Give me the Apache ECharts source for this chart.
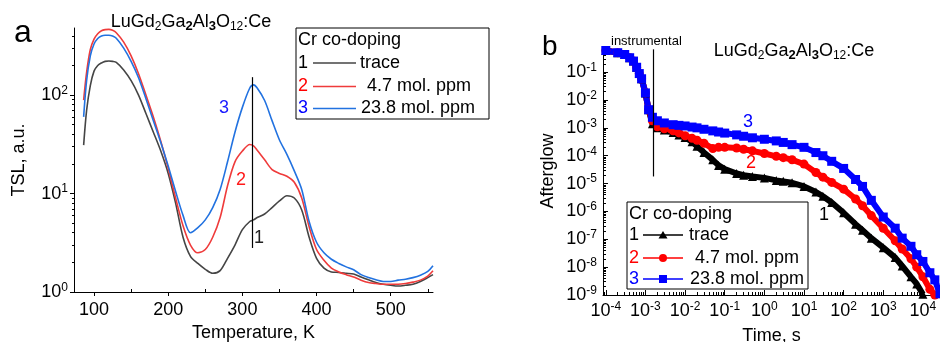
<!doctype html>
<html>
<head>
<meta charset="utf-8">
<title>TSL / afterglow</title>
<script src="https://cdn.jsdelivr.net/npm/echarts@6/dist/echarts.min.js"></script>
<style>
  html, body { margin:0; padding:0; background:#fff; }
  #chart { width:940px; height:342px; }
</style>
</head>
<body>
<div id="chart"></div>
<script>
// ---- panel a: TSL glow curves ----
var tempK = [86, 90, 95, 100, 105, 110, 115, 120, 125, 130,
             140, 150, 160, 170, 180, 190, 200, 210, 220, 230,
             240, 250, 260, 270, 280, 290, 300, 310, 315, 320,
             330, 340, 350, 360, 370, 380, 390, 400, 410, 420,
             430, 440, 450, 460, 470, 480, 490, 500, 510, 520,
             530, 540, 550, 557];
var tslTrace = [31, 70, 125, 175, 200, 212, 220, 222, 220, 215,
                180, 140, 100, 65, 42, 27, 16, 8, 3.6, 2.3,
                1.95, 1.7, 1.55, 1.65, 2.2, 3.0, 4.3, 5.2, 5.4, 5.7,
                6.2, 7.2, 8.4, 9.5, 9.0, 6.8, 3.6, 2.2, 1.75, 1.6,
                1.58, 1.55, 1.52, 1.42, 1.33, 1.25, 1.2, 1.17, 1.15, 1.17,
                1.2, 1.28, 1.4, 1.5];
var tsl47 = [89, 170, 290, 370, 420, 450, 462, 465, 455, 430,
             345, 250, 165, 100, 60, 34, 18, 9, 4.7, 3.0,
             2.5, 2.7, 3.6, 5.7, 12, 21, 27, 31.5, 30.5, 27.5,
             22, 17.5, 16, 15, 13, 9, 4.6, 2.7, 2.1, 1.75,
             1.6, 1.5, 1.42, 1.32, 1.25, 1.22, 1.2, 1.2, 1.2, 1.22,
             1.26, 1.32, 1.45, 1.64];
var tsl238 = [60, 140, 250, 330, 375, 398, 405, 405, 398, 378,
              300, 220, 150, 92, 55, 33, 19, 10.5, 6.0, 4.0,
              4.5, 5.4, 7.2, 11, 21, 42, 75, 118, 127, 118,
              88, 55, 35, 25, 17, 11, 5.2, 3.2, 2.5, 2.15,
              1.95, 1.8, 1.68, 1.5, 1.4, 1.33, 1.28, 1.28, 1.32, 1.35,
              1.4, 1.48, 1.62, 1.85];

// ---- panel b: afterglow decay ----
var timeS = [1e-4, 2e-4, 3e-4, 4e-4, 5e-4, 6e-4, 7e-4, 8e-4, 1e-3, 1.2e-3,
             1.5e-3, 2e-3, 3e-3, 5e-3, 7e-3, 1e-2, 1.5e-2, 2e-2, 3e-2, 5e-2,
             7e-2, 0.1, 0.2, 0.3, 0.5, 1, 2, 3, 5, 10,
             20, 30, 50, 100, 200, 300, 500, 1000, 2000, 3000,
             5000, 7000, 1e4, 1.5e4, 2e4, 2.7e4];
var agTrace = [0.60, 0.50, 0.43, 0.33, 0.25, 0.15, 0.089, 0.058, 0.018, 0.0045,
               1.4e-3, 1.0e-3, 8.3e-4, 6.8e-4, 5.6e-4, 4.5e-4, 3.2e-4, 2.2e-4, 1.3e-4, 7.1e-5,
               4.5e-5, 3.3e-5, 2.3e-5, 2.0e-5, 1.8e-5, 1.6e-5, 1.3e-5, 1.2e-5, 1.07e-5, 7.9e-6,
               5.0e-6, 3.5e-6, 2.1e-6, 8.9e-7, 3.5e-7, 2.1e-7, 1.1e-7, 5.0e-8, 2.2e-8, 1.1e-8,
               4.5e-9, 2.5e-9, 1.07e-9, null, null, null];
var ag47 = [0.60, 0.50, 0.43, 0.33, 0.25, 0.15, 0.089, 0.058, 0.018, 0.0045,
            1.8e-3, 1.1e-3, 9.3e-4, 7.9e-4, 6.6e-4, 5.2e-4, 4.2e-4, 3.6e-4, 2.8e-4, 1.8e-4,
            2.0e-4, 2.0e-4, 1.9e-4, 1.7e-4, 1.5e-4, 1.2e-4, 9.5e-5, 8.5e-5, 7.2e-5, 5.0e-5,
            2.5e-5, 1.7e-5, 1.1e-5, 6.3e-6, 2.8e-6, 1.6e-6, 7.1e-7, 2.5e-7, 8.9e-8, 4.5e-8,
            2.0e-8, 1.0e-8, 4.5e-9, 1.6e-9, 1.0e-9, null];
var ag238 = [0.60, 0.50, 0.43, 0.33, 0.25, 0.15, 0.089, 0.058, 0.018, 0.0045,
             2.4e-3, 1.8e-3, 1.5e-3, 1.3e-3, 1.23e-3, 1.17e-3, 1.07e-3, 1.0e-3, 8.9e-4, 7.8e-4,
             7.1e-4, 6.5e-4, 5.6e-4, 5.0e-4, 4.4e-4, 3.9e-4, 3.4e-4, 3.0e-4, 2.5e-4, 2.0e-4,
             1.3e-4, 1.0e-4, 6.3e-5, 3.5e-5, 1.4e-5, 7.9e-6, 2.5e-6, 6.3e-7, 2.5e-7, 1.1e-7,
             5.6e-8, 2.8e-8, 1.6e-8, 6.3e-9, 3.5e-9, 1.1e-9];

var tempTicks = [100, 200, 300, 400, 500];
var tempMinor = [150, 250, 350, 450, 550];
var tslTicks = [1, 10, 100];
var timeTicks = [1e-4, 1e-3, 1e-2, 1e-1, 1, 10, 100, 1000, 1e4];
var agTicks = [1e-9, 1e-8, 1e-7, 1e-6, 1e-5, 1e-4, 1e-3, 1e-2, 1e-1];

var FONT = '"Liberation Sans", Arial, sans-serif';
var colTrace = '#454545', col47 = '#ef3b3b', col238 = '#2272e0';

function pairs(xs, ys) {
    return xs.map(function (x, i) { return [x, ys[i]]; });
}
function minorLog(lo, hi, min, max) {
    var out = [];
    for (var e = lo; e <= hi; e++) {
        for (var m = 2; m <= 9; m++) {
            var v = m * Math.pow(10, e);
            if (v > min && v < max) out.push(v);
        }
    }
    return out;
}
function supLabel(v) {
    var e = Math.round(Math.log10(v));
    return '{b|10}{s|' + String(e) + '}';
}
var supRich = {
    b: { fontSize: 18, fontFamily: FONT, color: '#000' },
    s: { fontSize: 12, fontFamily: FONT, color: '#000', padding: [0, 0, 9, 0] }
};
var blackLine = { show: true, lineStyle: { color: '#000', width: 1 } };

var chart = echarts.init(document.getElementById('chart'));

function legendBox(x, y, w, h, rows, markers) {
    var els = [{
        type: 'rect', shape: { x: x, y: y, width: w, height: h },
        style: { fill: '#fff', stroke: '#000', lineWidth: 1 }, z: 100
    }];
    els.push({ type: 'text', x: x + 2, y: y + 12, z: 101,
        style: { text: 'Cr co-doping', fontSize: 18, fontFamily: FONT, fill: '#000', verticalAlign: 'middle' } });
    rows.forEach(function (r) {
        els.push({ type: 'text', x: x + 2, y: r.y, z: 101,
            style: { text: r.num, fontSize: 18, fontFamily: FONT, fill: r.numColor, verticalAlign: 'middle' } });
        els.push({ type: 'line', z: 101, shape: { x1: r.x1, y1: r.y, x2: r.x2, y2: r.y },
            style: { stroke: r.color, lineWidth: 1.5 } });
        if (markers) {
            var cx = (r.x1 + r.x2) / 2;
            if (r.marker === 'triangle') {
                els.push({ type: 'polygon', z: 102, shape: { points: [[cx, r.y - 4], [cx - 4.5, r.y + 3.5], [cx + 4.5, r.y + 3.5]] }, style: { fill: r.color } });
            } else if (r.marker === 'circle') {
                els.push({ type: 'circle', z: 102, shape: { cx: cx, cy: r.y, r: 4 }, style: { fill: r.color } });
            } else {
                els.push({ type: 'rect', z: 102, shape: { x: cx - 4, y: r.y - 4, width: 8, height: 8 }, style: { fill: r.color } });
            }
        }
        els.push({ type: 'text', x: r.tx, y: r.y, z: 101,
            style: { text: r.label, fontSize: 18, fontFamily: FONT, fill: '#000', verticalAlign: 'middle' } });
    });
    return els;
}

var formulaRich = {
    n: { fontSize: 18, fontFamily: FONT, color: '#000' },
    s: { fontSize: 12, fontFamily: FONT, color: '#000', padding: [9, 0, 0, 0] },
    r: { fontSize: 13, fontFamily: FONT, color: '#ff0000', fontWeight: 'bold', padding: [9, 0, 0, 0] }
};
var formula = '{n|LuGd}{s|2}{n|Ga}{r|2}{n|Al}{r|3}{n|O}{s|12}{n|:Ce}';

var graphics = [
    { type: 'text', x: 14, y: 33, style: { text: 'a', fontSize: 32, fontFamily: FONT, fill: '#000', verticalAlign: 'middle' } },
    { type: 'text', x: 542, y: 47, style: { text: 'b', fontSize: 28, fontFamily: FONT, fill: '#000', verticalAlign: 'middle' } },
    { type: 'text', x: 191, y: 22, style: { text: formula, rich: formulaRich, align: 'center', verticalAlign: 'middle' } },
    { type: 'text', x: 794, y: 51, style: { text: formula, rich: formulaRich, align: 'center', verticalAlign: 'middle' } },
    { type: 'text', x: 611, y: 41, style: { text: 'instrumental', fontSize: 13, fontFamily: FONT, fill: '#000', verticalAlign: 'middle' } },
    { type: 'text', x: 224, y: 108, style: { text: '3', fontSize: 18, fontFamily: FONT, fill: '#1a1aff', align: 'center', verticalAlign: 'middle' } },
    { type: 'text', x: 241, y: 180, style: { text: '2', fontSize: 18, fontFamily: FONT, fill: '#ff1a1a', align: 'center', verticalAlign: 'middle' } },
    { type: 'text', x: 259, y: 238, style: { text: '1', fontSize: 18, fontFamily: FONT, fill: '#222', align: 'center', verticalAlign: 'middle' } },
    { type: 'text', x: 748, y: 122, style: { text: '3', fontSize: 18, fontFamily: FONT, fill: '#0000ff', align: 'center', verticalAlign: 'middle' } },
    { type: 'text', x: 751, y: 163, style: { text: '2', fontSize: 18, fontFamily: FONT, fill: '#ff0000', align: 'center', verticalAlign: 'middle' } },
    { type: 'text', x: 824, y: 215, style: { text: '1', fontSize: 18, fontFamily: FONT, fill: '#000', align: 'center', verticalAlign: 'middle' } }
].concat(legendBox(296, 28, 193, 91, [
    { y: 63, num: '1', numColor: '#000', x1: 313, x2: 356, color: colTrace, tx: 360, label: 'trace' },
    { y: 86.5, num: '2', numColor: '#ff0000', x1: 313, x2: 356, color: col47, tx: 367, label: '4.7 mol. ppm' },
    { y: 108.5, num: '3', numColor: '#0000ff', x1: 313, x2: 356, color: col238, tx: 361, label: '23.8 mol. ppm' }
], false)).concat(legendBox(627, 202, 181, 87, [
    { y: 235, num: '1', numColor: '#000', x1: 643, x2: 683, color: '#000', marker: 'triangle', tx: 689, label: 'trace' },
    { y: 258, num: '2', numColor: '#ff0000', x1: 643, x2: 683, color: '#ff0000', marker: 'circle', tx: 695, label: '4.7 mol. ppm' },
    { y: 279, num: '3', numColor: '#0000ff', x1: 643, x2: 683, color: '#0000ff', marker: 'rect', tx: 690, label: '23.8 mol. ppm' }
], true));

var option = {
    animation: false,
    backgroundColor: '#fff',
    textStyle: { fontFamily: FONT },
    grid: [
        { left: 74, top: 28, width: 359, height: 264, outerBoundsMode: 'none', containLabel: false },
        { left: 603, top: 47, width: 337, height: 248, outerBoundsMode: 'none', containLabel: false }
    ],
    xAxis: [
        {
            type: 'value', gridIndex: 0, min: 73, max: 557,
            axisLine: blackLine, splitLine: { show: false },
            axisTick: { customValues: tempTicks, length: 4, lineStyle: { color: '#000' } },
            axisLabel: { customValues: tempTicks, fontSize: 18, color: '#000', margin: 9 },
            name: 'Temperature, K', nameLocation: 'middle', nameGap: 30,
            nameTextStyle: { fontSize: 18, color: '#000' }
        },
        {
            type: 'value', gridIndex: 0, position: 'bottom', min: 73, max: 557,
            axisLine: { show: false }, splitLine: { show: false }, axisLabel: { show: false },
            axisTick: { customValues: tempMinor, length: 3, inside: true, lineStyle: { color: '#000' } }
        },
        {
            type: 'log', gridIndex: 1, min: 8.5e-5, max: 2.7e4,
            axisLine: blackLine, splitLine: { show: false },
            axisTick: { customValues: timeTicks, length: 5, inside: true, lineStyle: { color: '#000' } },
            axisLabel: { customValues: timeTicks, formatter: supLabel, rich: supRich, margin: 6 },
            name: 'Time, s', nameLocation: 'middle', nameGap: 32,
            nameTextStyle: { fontSize: 18, color: '#000' }
        },
        {
            type: 'log', gridIndex: 1, position: 'bottom', min: 8.5e-5, max: 2.7e4,
            axisLine: { show: false }, splitLine: { show: false }, axisLabel: { show: false },
            axisTick: { customValues: minorLog(-5, 4, 8.5e-5, 2.7e4), length: 3, inside: true, lineStyle: { color: '#000' } }
        }
    ],
    yAxis: [
        {
            type: 'log', gridIndex: 0, min: 1, max: 480,
            axisLine: blackLine, splitLine: { show: false },
            axisTick: { customValues: tslTicks, length: 4, lineStyle: { color: '#000' } },
            axisLabel: { customValues: tslTicks, formatter: supLabel, rich: supRich, margin: 6 },
            name: 'TSL, a.u.', nameLocation: 'middle', nameGap: 46, nameRotate: 90,
            nameTextStyle: { fontSize: 18, color: '#000' }
        },
        {
            type: 'log', gridIndex: 0, position: 'left', min: 1, max: 480,
            axisLine: { show: false }, splitLine: { show: false }, axisLabel: { show: false },
            axisTick: { customValues: minorLog(0, 2, 1, 480), length: 2, lineStyle: { color: '#000' } }
        },
        {
            type: 'log', gridIndex: 1, min: 1e-9, max: 0.8,
            axisLine: blackLine, splitLine: { show: false },
            axisTick: { customValues: agTicks, length: 5, inside: true, lineStyle: { color: '#000' } },
            axisLabel: { customValues: agTicks, formatter: supLabel, rich: supRich, margin: 6 },
            name: 'Afterglow', nameLocation: 'middle', nameGap: 46, nameRotate: 90,
            nameTextStyle: { fontSize: 18, color: '#000' }
        },
        {
            type: 'log', gridIndex: 1, position: 'left', min: 1e-9, max: 0.8,
            axisLine: { show: false }, splitLine: { show: false }, axisLabel: { show: false },
            axisTick: { customValues: minorLog(-9, -1, 1e-9, 0.8), length: 3, inside: true, lineStyle: { color: '#000' } }
        }
    ],
    series: [
        {
            name: 'trace', type: 'line', xAxisIndex: 0, yAxisIndex: 0, smooth: 0.3,
            showSymbol: false, data: pairs(tempK, tslTrace),
            lineStyle: { color: colTrace, width: 1.6 },
            markLine: {
                silent: true, symbol: 'none', label: { show: false },
                lineStyle: { color: '#000', width: 1.2, type: 'solid' },
                data: [[{ coord: [312.8, 2.8] }, { coord: [312.8, 152] }]]
            }
        },
        {
            name: '4.7 mol. ppm', type: 'line', xAxisIndex: 0, yAxisIndex: 0, smooth: 0.3,
            showSymbol: false, data: pairs(tempK, tsl47),
            lineStyle: { color: col47, width: 1.6 }
        },
        {
            name: '23.8 mol. ppm', type: 'line', xAxisIndex: 0, yAxisIndex: 0, smooth: 0.3,
            showSymbol: false, data: pairs(tempK, tsl238),
            lineStyle: { color: col238, width: 1.6 }
        },
        {
            name: 'trace', type: 'line', xAxisIndex: 2, yAxisIndex: 2,
            symbol: 'triangle', symbolSize: 9, showAllSymbol: true,
            data: pairs(timeS, agTrace), connectNulls: false,
            itemStyle: { color: '#000' }, lineStyle: { color: '#000', width: 6 },
            markLine: {
                silent: true, symbol: 'none', label: { show: false },
                lineStyle: { color: '#000', width: 1.2, type: 'solid' },
                data: [[{ coord: [1.6e-3, 1.8e-5] }, { coord: [1.6e-3, 0.66] }]]
            }
        },
        {
            name: '4.7 mol. ppm', type: 'line', xAxisIndex: 2, yAxisIndex: 2,
            symbol: 'circle', symbolSize: 9, showAllSymbol: true,
            data: pairs(timeS, ag47),
            itemStyle: { color: '#ff0000' }, lineStyle: { color: '#ff0000', width: 6 }
        },
        {
            name: '23.8 mol. ppm', type: 'line', xAxisIndex: 2, yAxisIndex: 2,
            symbol: 'rect', symbolSize: 9, showAllSymbol: true,
            data: pairs(timeS, ag238),
            itemStyle: { color: '#0000ff' }, lineStyle: { color: '#0000ff', width: 6 }
        }
    ],
    graphic: graphics
};
chart.setOption(option);
</script>
</body>
</html>
